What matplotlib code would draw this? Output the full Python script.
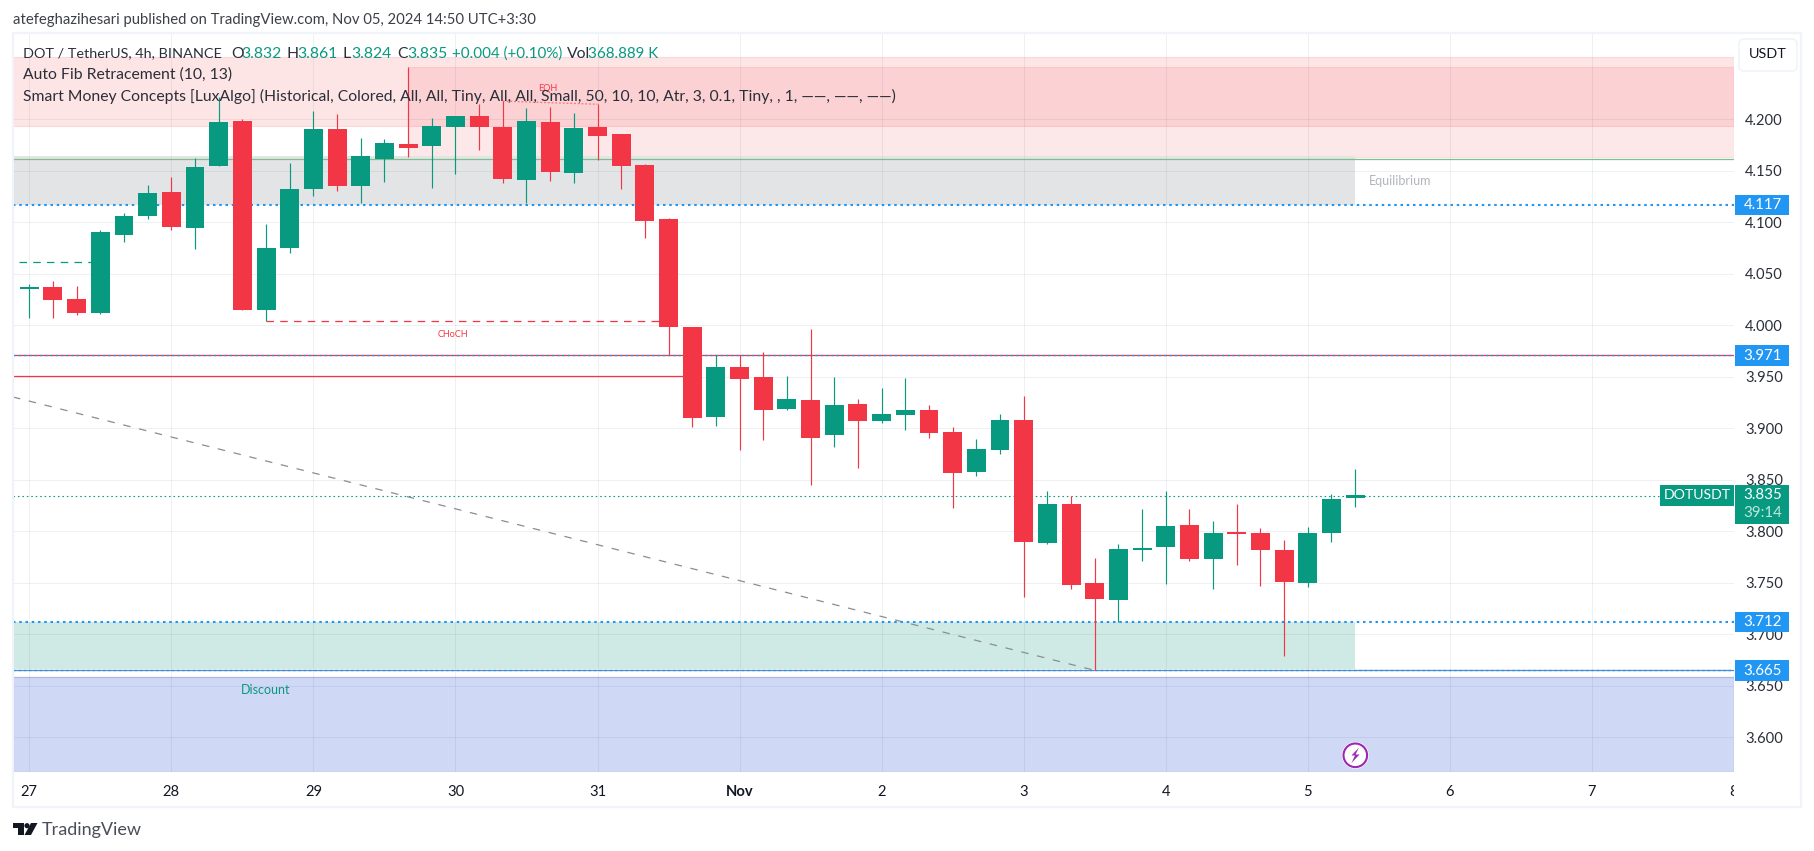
import matplotlib
matplotlib.use("Agg")
import matplotlib.pyplot as plt
from matplotlib.patches import Rectangle, FancyBboxPatch, Circle, Polygon
from matplotlib.transforms import blended_transform_factory, Bbox

W, H = 1814, 851
FONT = "Lato"
plt.rcParams["font.family"] = [FONT, "DejaVu Sans"]

GREEN = "#089981"
RED = "#F23645"
BLUE = "#2196F3"
DARK = "#131722"

opens = [4.0354, 4.0373, 4.0257, 4.0121, 4.0878, 4.1063, 4.1296, 4.0946, 4.1548, 4.1985,
         4.0150, 4.0752, 4.1325, 4.1908, 4.1354, 4.1616, 4.1762, 4.1743, 4.1927, 4.2034,
         4.1927, 4.1412, 4.1976, 4.1480, 4.1927, 4.1859, 4.1558, 4.1034, 3.9985, 3.9111,
         3.9596, 3.9499, 3.9188, 3.9276, 3.8936, 3.9237, 3.9072, 3.9130, 3.9179, 3.8965,
         3.8577, 3.8790, 3.9082, 3.7887, 3.8266, 3.7499, 3.7334, 3.7819, 3.7848, 3.8062,
         3.7732, 3.7994, 3.7984, 3.7819, 3.7499, 3.7984, 3.832]
highs = [4.0403, 4.0432, 4.0383, 4.0927, 4.1089, 4.1364, 4.1442, 4.1626, 4.2222, 4.2005,
         4.0985, 4.1578, 4.2082, 4.2053, 4.1820, 4.1811, 4.2510, 4.2015, 4.2034, 4.2150,
         4.2178, 4.2112, 4.2121, 4.2063, 4.2150, 4.1859, 4.1568, 4.1043, 3.9985, 3.9713,
         3.9713, 3.9742, 3.9509, 3.9965, 3.9499, 3.9286, 3.9392, 3.9490, 3.9227, 3.9014,
         3.8897, 3.9140, 3.9315, 3.8392, 3.8344, 3.7741, 3.7877, 3.8217, 3.8392, 3.8217,
         3.8101, 3.8266, 3.8033, 3.7916, 3.8042, 3.8363, 3.861]
lows = [4.0075, 4.0075, 4.0101, 4.0111, 4.0810, 4.1034, 4.0927, 4.0742, 4.1548, 4.0150,
        4.0040, 4.0707, 4.1257, 4.1306, 4.1189, 4.1393, 4.1639, 4.1335, 4.1471, 4.1704,
        4.1383, 4.1189, 4.1403, 4.1383, 4.1607, 4.1325, 4.0849, 3.9713, 3.9014, 3.9023,
        3.8790, 3.8887, 3.9179, 3.8450, 3.8819, 3.8615, 3.9053, 3.8985, 3.8907, 3.8227,
        3.8538, 3.8751, 3.7363, 3.7877, 3.7440, 3.6654, 3.7120, 3.7712, 3.7489, 3.7712,
        3.7440, 3.7673, 3.7470, 3.6790, 3.7460, 3.7897, 3.824]
closes = [4.0373, 4.0247, 4.0121, 4.0907, 4.1063, 4.1286, 4.0956, 4.1539, 4.1976, 4.0150,
          4.0752, 4.1325, 4.1908, 4.1354, 4.1646, 4.1772, 4.1723, 4.1937, 4.2034, 4.1927,
          4.1422, 4.1985, 4.1490, 4.1917, 4.1840, 4.1548, 4.1014, 3.9985, 3.9101, 3.9596,
          3.9480, 3.9179, 3.9286, 3.8907, 3.9227, 3.9072, 3.9140, 3.9179, 3.8955, 3.8567,
          3.8800, 3.9082, 3.7897, 3.8266, 3.7479, 3.7343, 3.7829, 3.7838, 3.8052, 3.7732,
          3.7984, 3.7975, 3.7819, 3.7508, 3.7984, 3.8314, 3.835]

day_positions = [0, 6, 12, 18, 24, 30, 36, 42, 48, 54, 60, 66, 72]
day_labels = ["27", "28", "29", "30", "31", "Nov", "2", "3", "4", "5", "6", "7", "8"]
price_ticks = [3.60, 3.65, 3.70, 3.75, 3.80, 3.85, 3.90, 3.95, 4.00, 4.05, 4.10, 4.15, 4.20]

level_labels = [4.117, 3.971, 3.712, 3.665]
last_price = 3.835

premium_outer = (4.2604, 4.1940)
premium_inner = (4.2507, 4.1639, 16)
equilibrium = (4.1646, 4.1173, 56)
discount_upper = (3.7120, 3.6662, 56)
discount_lower = (3.6583, 3.5666)
green_level = 4.1613
red_level = 3.9710
red_bos = (3.9506, 28)
trend_x = [-0.69, 45]
trend_y = [3.9305, 3.665]
green_dash = (4.0613, -0.45, 3)
choch = (4.0040, 10, 27)
eqh_x = [20, 24]
eqh_y = [4.2178, 4.2148]

fig = plt.figure(figsize=(W / 100, H / 100), dpi=100, facecolor="white")
L, R, T, B = 13, 1734, 33.5, 771.7
ax = fig.add_axes([L / W, 1 - B / H, (R - L) / W, (B - T) / H])
ax.set_xlim(-0.688, 71.98)
ax.set_ylim(3.5666, 4.2835)
for s in ax.spines.values():
    s.set_visible(False)

ax.set_axisbelow("line")
ax.grid(True, color="#2a2e39", alpha=0.07, lw=0.72)
ax.yaxis.tick_right()
ax.set_yticks(price_ticks, [f"{v:.3f}" for v in price_ticks])
ax.set_xticks(day_positions, day_labels)
ax.tick_params(axis="both", length=0, labelsize=10.6, labelcolor=DARK)
ax.tick_params(axis="y", pad=8.0, labelcolor="#2a2e39")
ax.tick_params(axis="x", pad=9.5)
clip = Bbox([[L, 0], [R, H]])
for lab in ax.get_xticklabels():
    lab.set_clip_on(True)
    lab.set_clip_box(clip)
    if lab.get_text() == "Nov":
        lab.set_fontweight("bold")

x0, x1 = ax.get_xlim()
bx = lambda a, b, **k: ax.add_patch(Rectangle((a, b[1]), k.pop("x2", x1) - a, b[0] - b[1], **k))
rc = (242 / 255, 54 / 255, 69 / 255, 0.13)
rc2 = (242 / 255, 54 / 255, 69 / 255, 0.115)
bx(x0, premium_outer, fc=rc, ec=rc, lw=0.8, zorder=1)
bx(premium_inner[2], premium_inner, fc=rc2, ec=rc2, lw=0.8, zorder=1)
bx(x0, equilibrium, x2=equilibrium[2], fc="#e3e4e6", ec="none", zorder=1)
bx(x0, discount_upper, x2=discount_upper[2], fc="#cfeae4", ec="none", zorder=1)
bx(x0, discount_lower, fc="#cfd8f4", ec="#a9b8e6", lw=0.9, zorder=1)

ax.plot([x0, x1], [green_level] * 2, color="#7fbf8a", lw=0.9, zorder=1.6)
ax.plot([x0, x1], [red_level] * 2, color=RED, lw=0.9, zorder=1.6)
ax.plot([x0, red_bos[1]], [red_bos[0]] * 2, color=RED, lw=0.9, zorder=1.6)
ax.plot([x0, x1], [3.6652] * 2, color="#5b86c4", lw=0.9, zorder=1.6)
ax.plot(trend_x, trend_y, color="#8a8d96", lw=0.9, dashes=(6, 7), zorder=2)
ax.plot(green_dash[1:], [green_dash[0]] * 2, color=GREEN, lw=0.9, dashes=(6, 5), zorder=2)
ax.plot(choch[1:], [choch[0]] * 2, color=RED, lw=0.9, dashes=(6, 5), zorder=2)
ax.plot(eqh_x, eqh_y, color=RED, alpha=0.6, lw=0.9, dashes=(1.5, 1.5), zorder=2)

for v, lw, ds in [(4.117, 1.5, (1.2, 1.8)), (3.712, 1.5, (1.2, 1.8)), (3.971, 1.0, (1.6, 2.2)), (3.665, 1.0, (1.6, 2.2))]:
    ax.plot([x0, x1], [v + (0.0006 if v == 3.971 else 0)] * 2, color=BLUE, lw=lw, dashes=ds, zorder=2.4)
ax.plot([x0, x1], [last_price - 0.0003] * 2, color=GREEN, lw=0.8, dashes=(1.4, 2.6), zorder=2.4)

for i, (o, h, l, c) in enumerate(zip(opens, highs, lows, closes)):
    col = GREEN if c >= o else RED
    ax.plot([i, i], [l, h], color=col, lw=0.85, zorder=3, solid_capstyle="butt")
    ax.bar(i, abs(c - o), bottom=min(o, c), width=0.8, color=col, lw=0, zorder=3.1)

ax.text(21.9, 4.2303, "EQH", color=RED, fontsize=6.5, ha="center", va="center", zorder=5)
ax.text(17.9, 3.9907, "CHoCH", color=RED, fontsize=6.5, ha="center", va="center", zorder=5)
ax.text(57.9, 4.1403, "Equilibrium", color="#b2b5be", fontsize=9.0, ha="center", va="center", zorder=5)
ax.text(9.98, 3.6463, "Discount", color=GREEN, fontsize=9.0, ha="center", va="center", zorder=5)

ov = fig.add_axes([0, 0, 1, 1], facecolor="none")
ov.set_xlim(0, W)
ov.set_ylim(H, 0)
ov.axis("off")
ytr = blended_transform_factory(ov.transData, ax.transData)

# outer frame
ov.add_patch(Rectangle((12.5, 33), 1801 - 12.5, 806.5 - 33, fc="none", ec="#f0f3fa", lw=1.6))

# header and legend
ov.text(13, 20, "atefeghazihesari published on TradingView.com, Nov 05, 2024 14:50 UTC+3:30",
        color="#3d4048", fontsize=10.7, va="center")
TS = 11.3
leg = [(23, "DOT / TetherUS, 4h, BINANCE", "#2a2e39", 10.4), (231, "O", "#2a2e39", TS), (241, "3.832", GREEN, TS),
       (287, "H", "#2a2e39", TS), (297, "3.861", GREEN, TS), (343, "L", "#2a2e39", TS), (351, "3.824", GREEN, TS),
       (397, "C", "#2a2e39", TS), (407, "3.835", GREEN, TS), (452, "+0.004 (+0.10%)", GREEN, 10.9),
       (567, "Vol", "#2a2e39", TS), (588, "368.889 K", GREEN, 10.9)]
for x, s, c, fs in leg:
    ov.text(x, 53.5, s, color=c, fontsize=fs, va="center")
ov.text(23, 75, "Auto Fib Retracement (10, 13)", color="#2a2e39", fontsize=TS, va="center")
ov.text(23, 96, "Smart Money Concepts [LuxAlgo] (Historical, Colored, All, All, Tiny, All, All, Small, 50, 10, 10, Atr, 3, 0.1, Tiny, , 1, \u2014\u2014, \u2014\u2014, \u2014\u2014)",
        color="#2a2e39", fontsize=TS, va="center")

# USDT button
ov.add_patch(FancyBboxPatch((1741, 41), 54, 28, boxstyle="round,pad=2,rounding_size=5", fc="white", ec="#f0f3fa", lw=1.2))
ov.text(1768, 54.5, "USDT", color=DARK, fontsize=10.4, ha="center", va="center")

# price labels
for v in level_labels:
    ov.add_patch(Rectangle((1735, v - 0.0100), 54, 0.0200, fc=BLUE, ec="none", transform=ytr, zorder=4))
    ov.text(1763, v - 0.0004, f"{v:.3f}", color="white", fontsize=10.8,
            ha="center", va="center", transform=ytr, zorder=5)
ov.add_patch(Rectangle((1735, last_price - 0.0275), 54, 0.0375, fc=GREEN, ec="none", transform=ytr, zorder=4))
ov.add_patch(Rectangle((1660, last_price - 0.0100), 74, 0.0200, fc=GREEN, ec="none", transform=ytr, zorder=4))
ov.text(1763, last_price, f"{last_price:.3f}", color="white", fontsize=10.8, ha="center", va="center", transform=ytr, zorder=5)
ov.text(1763, last_price - 0.0175, "39:14", color="#bfe6dc", fontsize=10.8, ha="center", va="center", transform=ytr, zorder=5)
ov.text(1697, last_price, "DOTUSDT", color="white", fontsize=10.2, ha="center", va="center", transform=ytr, zorder=5)

# bolt icon
ov.add_patch(Circle((1355.3, 755.3), 13.5, fc="white", ec="none", zorder=6))
ov.add_patch(Circle((1355.3, 755.3), 11.8, fc="white", ec="#9c27b0", lw=1.5, zorder=6))
ov.add_patch(Polygon([(1359, 747.5), (1351.5, 755.5), (1355, 755.5), (1351.5, 763), (1359.5, 754.5), (1355.5, 754.5)],
                     fc="#9c27b0", ec="none", zorder=7))

# TradingView logo
ov.add_patch(Polygon([(13, 823), (23.5, 823), (23.5, 835), (18, 835), (18, 828), (13, 828)], fc=DARK, ec="none"))
ov.add_patch(Circle((27.0, 825.7), 2.6, fc=DARK, ec="none"))
ov.add_patch(Polygon([(31, 823), (37.5, 823), (31, 835), (24.5, 835)], fc=DARK, ec="none"))
ov.text(42, 829.5, "TradingView", color="#4a4e58", fontsize=13, va="center")

fig.savefig("out.png", dpi=100, facecolor="white")
